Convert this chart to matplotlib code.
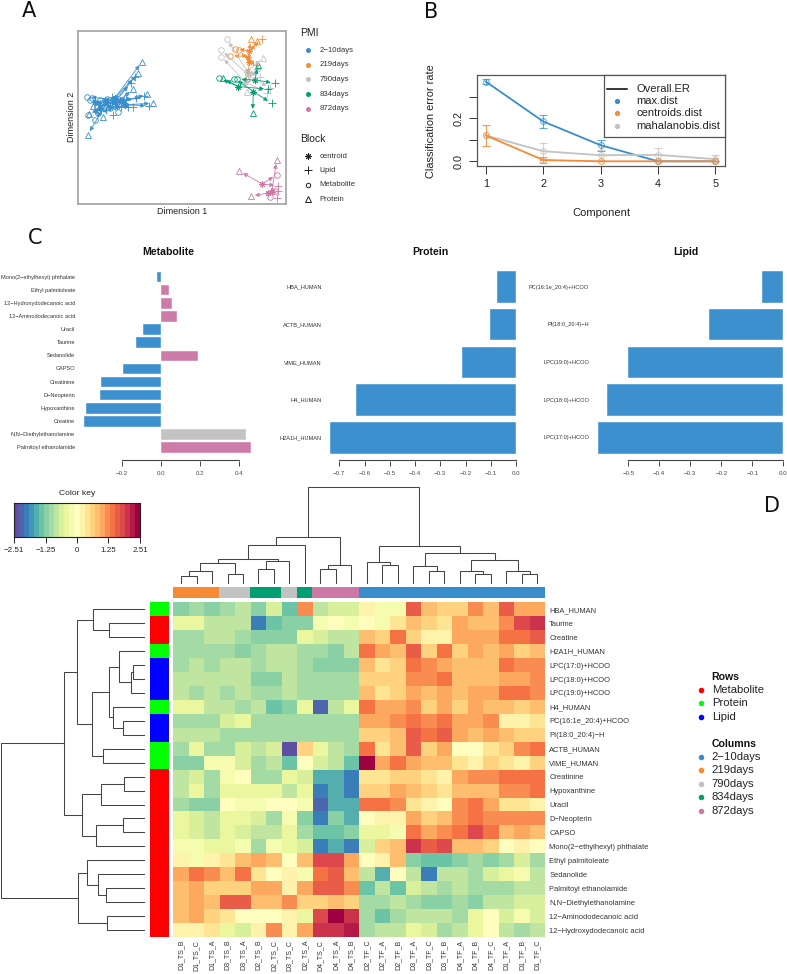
import numpy as np
import matplotlib
matplotlib.use('Agg')
import matplotlib.pyplot as plt
from matplotlib.colors import ListedColormap, BoundaryNorm, to_rgb

plt.rcParams['font.family'] = ['Liberation Sans', 'DejaVu Sans']

W, H = 787, 974
BLUE, ORANGE, GREY, GREEN, PINK = '#388ECC', '#F68B33', '#C2C2C2', '#009E73', '#CC79A7'
pmi_names = ['2\u221210days', '219days', '790days', '834days', '872days']
pmi_cols = [BLUE, ORANGE, GREY, GREEN, PINK]

# ---- A: sample plot, one entry per sample (arbitrary units)
sample_pmi = [0] * 12 + [1] * 3 + [2] * 3 + [3] * 3 + [4] * 3
centroid_x = [340, 345, 360, 370, 375, 320, 330, 315, 350, 300, 285, 345,
              748, 745, 748, 742, 745, 735, 760, 715, 765, 787, 815, 805]
centroid_y = [300, 305, 300, 305, 315, 310, 320, 300, 318, 325, 305, 295,
              152, 170, 185, 215, 225, 245, 275, 260, 240, 553, 578, 580]
lipid_x = [405, 392, 408, 432, 448, 378, 400, 362, 340, 335, 318, 385,
           785, 770, 768, 780, 810, 800, 815, 805, 825, 835, 830, 835]
lipid_y = [230, 250, 295, 288, 318, 300, 320, 320, 345, 292, 330, 322,
           117, 207, 195, 232, 265, 280, 310, 268, 250, 558, 595, 575]
metab_x = [330, 355, 290, 262, 295, 284, 270, 300, 320, 265, 275, 365,
           706, 690, 716, 680, 664, 664, 703, 658, 712, 830, 810, 825]
metab_y = [325, 336, 322, 290, 340, 362, 300, 300, 298, 345, 295, 300,
           148, 167, 150, 116, 150, 170, 236, 235, 238, 525, 592, 575]
protein_x = [426, 415, 400, 442, 460, 263, 268, 280, 375, 310, 295, 300,
             753, 770, 742, 790, 770, 740, 758, 668, 773, 718, 830, 752]
protein_y = [186, 218, 268, 283, 310, 405, 342, 318, 290, 350, 330, 320,
             118, 123, 235, 173, 205, 275, 340, 235, 195, 514, 480, 590]

# ---- B: classification error
components = [1, 2, 3, 4, 5]
max_dist = [0.37, 0.185, 0.075, 0.0, 0.0]
max_err = [0.01, 0.032, 0.025, 0.0, 0.0]
centroids_dist = [0.12, 0.006, 0.0, 0.0, 0.0]
centroids_err = [0.05, 0.016, 0.0, 0.0, 0.0]
mahal_dist = [0.12, 0.047, 0.028, 0.03, 0.01]
mahal_err = [0.05, 0.04, 0.024, 0.033, 0.02]

# ---- C: loadings
metab_names = ['Mono(2\u2212ethylhexyl) phthalate', 'Ethyl palmitoleate', '12\u2212Hydroxydodecanoic acid',
               '12\u2212Aminododecanoic acid', 'Uracil', 'Taurine', 'Sedanolide', 'CAPSO', 'Creatinine',
               'D\u2212Neopterin', 'Hypoxanthine', 'Creatine', 'N,N\u2212Diethylethanolamine',
               'Palmitoyl ethanolamide']
metab_load = [-0.02, 0.043, 0.056, 0.083, -0.089, -0.126, 0.19, -0.193, -0.305, -0.312, -0.383, -0.392, 0.433, 0.459]
metab_group = [0, 4, 4, 4, 0, 0, 4, 0, 0, 0, 0, 0, 2, 4]
prot_names = ['HBA_HUMAN', 'ACTB_HUMAN', 'VIME_HUMAN', 'H4_HUMAN', 'H2A1H_HUMAN']
prot_load = [-0.076, -0.103, -0.213, -0.632, -0.738]
lipid_names = ['PC(16:1e_20:4)+HCOO', 'PI(18:0_20:4)\u2212H', 'LPC(19:0)+HCOO', 'LPC(18:0)+HCOO', 'LPC(17:0)+HCOO']
lipid_load = [-0.07, -0.24, -0.501, -0.57, -0.598]

# ---- D: clustered heatmap
row_names = ['HBA_HUMAN', 'Taurine', 'Creatine', 'H2A1H_HUMAN', 'LPC(17:0)+HCOO', 'LPC(18:0)+HCOO', 'LPC(19:0)+HCOO',
             'H4_HUMAN', 'PC(16:1e_20:4)+HCOO', 'PI(18:0_20:4)\u2212H', 'ACTB_HUMAN', 'VIME_HUMAN', 'Creatinine',
             'Hypoxanthine', 'Uracil', 'D\u2212Neopterin', 'CAPSO', 'Mono(2\u2212ethylhexyl) phthalate',
             'Ethyl palmitoleate', 'Sedanolide', 'Palmitoyl ethanolamide', 'N,N\u2212Diethylethanolamine',
             '12\u2212Aminododecanoic acid', '12\u2212Hydroxydodecanoic acid']
col_names = ['D1_TS_B', 'D1_TS_C', 'D1_TS_A', 'D3_TS_B', 'D3_TS_A', 'D2_TS_B', 'D2_TS_C', 'D3_TS_C', 'D2_TS_A',
             'D4_TS_C', 'D4_TS_A', 'D4_TS_B', 'D2_TF_C', 'D2_TF_A', 'D2_TF_B', 'D3_TF_A', 'D3_TF_C', 'D3_TF_B',
             'D4_TF_A', 'D4_TF_B', 'D4_TF_C', 'D1_TF_A', 'D1_TF_B', 'D1_TF_C']
row_block = [1, 0, 0, 1, 2, 2, 2, 1, 2, 2, 1, 1] + [0] * 12
col_group = [1, 1, 1, 2, 2, 3, 3, 2, 3, 4, 4, 4] + [0] * 12
heat_values = [
    [-1.2, -.95, -1.2, -.95, -.75, -1.2, -.55, -1.45, 1.2, -.75, -.55, -.55, .2, -.3, -.3, 1.6, .8, .6, .6, 1.2, .8, 1.6, 1.0, 1.0],
    [-.5, -.5, -.75, -.75, -.75, -1.95, -1.4, -1.2, -1.2, -.2, 0, -.2, 0, -.3, .4, .8, .6, .4, 1.0, .8, .8, 1.2, 1.8, 2.0],
    [-.95, -.95, -.75, -.75, -.95, -1.2, -1.2, -1.2, -.4, -.55, -.75, -.75, .8, .6, 1.4, .6, .2, .2, 1.0, 1.0, 1.0, 1.4, 1.4, 1.6],
    [-.95, -.95, -.95, -.95, -1.2, -.95, -.75, -.75, -.95, -.95, -1.2, -.75, 1.4, 1.0, .8, 1.6, .6, 1.4, .6, 1.0, .8, 1.0, .6, .8],
    [-.95, -.75, -.95, -.75, -.75, -.95, -.75, -.75, -.95, -1.15, -1.15, -1.15, .8, .4, .6, 1.4, 1.2, 1.0, .8, .8, .8, 1.4, 1.2, 1.2],
    [-.75, -.75, -.75, -.75, -.75, -1.15, -1.15, -.75, -.95, -.95, -.95, -.95, .6, .6, .6, 1.2, 1.2, 1.4, .8, .8, .8, 1.0, 1.0, 1.2],
    [-.75, -.95, -.75, -.95, -.75, -.95, -.95, -.75, -.95, -.95, -.95, -.95, .8, .4, .6, 1.0, .8, 1.0, .8, 1.0, 1.0, 1.4, 1.4, 1.2],
    [-.5, -.5, -.75, -.75, -.95, -.75, -1.45, -1.2, -.4, -2.2, -.75, -.35, 1.4, 1.0, 1.0, 1.2, .6, 1.0, .6, 1.0, .8, .8, .6, .8],
    [-.95, -.95, -.95, -.55, -.35, -.95, -.95, -.95, -.95, -.95, -.95, -.95, 1.0, 1.0, 1.2, 1.4, 1.2, 1.4, 1.0, 1.0, 1.2, .2, .2, .4],
    [-.75, -.75, -.75, -.95, -.95, -.95, -.95, -.95, -.95, -.95, -.95, -.95, .6, .6, .8, 1.6, 1.4, 1.6, 1.0, .8, 1.0, .8, .6, .6],
    [-.95, -.5, -.95, -.95, -.55, -.75, -.55, -2.4, .6, -.35, -.75, -.95, 1.4, .4, .8, 1.6, .6, 1.0, 0, 0, .4, .6, 1.2, 1.4],
    [-1.2, -1.2, -.25, -.25, -.55, -.95, -.75, -1.4, 0, -.55, -.75, -1.4, 2.5, 1.0, 1.4, 1.0, .8, .8, .4, .2, .6, .4, .2, .6],
    [-.75, -.55, -.95, -.25, 0, -.95, -.95, -.4, -.55, -1.7, -1.7, -1.95, .4, .4, .6, .6, .4, .2, 1.0, 1.2, 1.2, 1.4, 1.4, 1.4],
    [-.75, -.5, -.95, -.4, -.4, -.4, -.4, -.75, -.4, -1.95, -1.7, -1.95, .6, .6, 1.0, .8, .6, .4, .8, .8, .8, 1.2, 1.2, 1.4],
    [-.95, -1.2, -1.2, 0, -.2, -.2, -.05, -.05, -.2, -2.2, -1.7, -1.7, 1.4, 1.4, 1.2, .4, .2, 0, 1.2, 1.4, 1.0, .4, .4, .2],
    [-.4, -.55, -.75, -.4, -.4, -.55, -.95, -.2, -1.2, -1.95, -1.15, -1.7, 0, .2, .2, 1.0, .6, .8, 1.2, 1.4, 1.2, 1.2, 1.2, 1.2],
    [-.4, -.55, -.75, -.4, -.55, -.75, -.75, -.35, -.95, -1.45, -1.45, -1.2, -.4, -.4, -.25, 1.4, 1.0, 1.2, 1.4, 1.8, 1.4, .8, 1.0, .8],
    [-.2, -.2, -.4, -.4, -.2, -.95, -.2, -.4, -.55, -1.95, -1.7, -1.95, -.55, .6, .8, 2.0, 1.6, 1.8, .8, .8, .6, 0, .2, 0],
    [.2, -.2, .2, .4, .8, 1.0, .8, 0, .8, 1.8, 1.8, 1.0, 0, .2, .8, -1.2, -1.45, -1.45, -1.2, -.95, -1.2, -.95, -.55, -.95],
    [1.0, 1.4, 1.2, .8, 1.4, .4, 0, .2, -.3, 1.4, 1.6, .8, -.75, -1.7, 0, -.75, -1.95, -.75, -.75, -.95, -.55, -.4, -.2, -.75],
    [.8, 1.0, .6, .6, .6, 1.0, 1.0, .2, 1.0, 1.6, 1.6, 1.2, -1.45, -.75, -1.45, -.55, -.75, -.95, -.75, -.95, -.95, -.95, -.75, -.75],
    [.8, 1.0, .8, 1.6, 1.6, .8, .8, 1.2, .6, .6, .8, .6, -.95, -.95, -.75, -.95, -1.2, -1.2, -.95, -1.2, -.75, -.75, -.55, -.55],
    [.8, 1.0, .6, .4, 0, 0, 0, .2, -.4, 1.8, 2.5, 2.0, -.95, -1.45, -.95, -.75, -.75, -.75, -.95, -.35, -.05, -.55, -.25, -.55],
    [.2, .2, .4, -.4, -.55, .2, 1.2, .2, 1.0, 2.0, 2.0, 2.2, -.95, -.75, -.75, -.4, -.55, -.95, -.75, -.4, 0, -.75, -.95, -.75],
]
key_ticks = [-2.51, -1.25, 0, 1.25, 2.51]

# dendrograms: nested (height, left, right), leaves are row/column indices
col_tree = (96.7,
            (46, (38, (24, (20, (12.7, (7.7, 0, 1), 2), (9.7, 3, 4)), (22.3, (14.3, 5, 6), 7)), 8),
             (18, (14, 9, 10), 11)),
            (37, (21, 12, (18.7, 13, 14)),
             (30, (17.7, 15, (12, 16, 17)),
              (23.7, (12, 18, (9.7, 19, 20)), (12.7, 21, (9.7, 22, 23))))))
row_tree = (143.7,
            (80.7,
             (67.7, (51.3, 0, (35, 1, 2)),
              (52, (35.3, (25.7, 3, (13.7, (11, 4, 5), 6)), (31.7, 7, (21.7, 8, 9))), (41, 10, 11))),
             (62.3, (43.7, (20.3, 12, 13), 14), (48, (21.7, 15, 16), 17))),
            (66.7, (57.7, 18, (46.3, 19, (38.7, 20, 21))), (37.7, 22, 23)))


def px_axes(x0, y0, x1, y1):
    # axes from picture pixels (y measured from the top)
    return fig.add_axes([x0 / W, 1 - y1 / H, (x1 - x0) / W, (y1 - y0) / H])


def px_text(x, y, s, **kw):
    kw.setdefault('va', 'center')
    return fig.text(x / W, 1 - y / H, s, **kw)


def walk(node, segs):
    # returns (position, height) of a subtree and collects the U shapes
    if not isinstance(node, tuple):
        return node + 0.5, 0.0
    h, a, b = node
    pa, ha = walk(a, segs)
    pb, hb = walk(b, segs)
    segs.append(([pa, pa, pb, pb], [ha, h, h, hb]))
    return (pa + pb) / 2, h


fig = plt.figure(figsize=(W / 100, H / 100), dpi=100)

for letter, lx, ly in [('A', 29, 17), ('B', 431, 18), ('C', 35, 244), ('D', 772, 512)]:
    px_text(lx, ly, letter, fontsize=15, ha='center', va='baseline', family='DejaVu Sans', color='#111111')

# ---------- A
ax = px_axes(78, 31, 286, 204)
for i, g in enumerate(sample_pmi):
    c = pmi_cols[g]
    cx, cy = centroid_x[i], centroid_y[i]
    for ex, ey in [(lipid_x[i], lipid_y[i]), (metab_x[i], metab_y[i]), (protein_x[i], protein_y[i])]:
        ax.annotate('', xy=(ex, ey), xytext=(cx, cy),
                    arrowprops=dict(arrowstyle='-|>', color=c, lw=0.7, mutation_scale=6,
                                    shrinkA=0, shrinkB=3, alpha=0.85))
    ax.plot(cx, cy, ls='', marker=(8, 2, 0), ms=4.5, mew=0.7, color=c)
    ax.plot(lipid_x[i], lipid_y[i], ls='', marker='+', ms=6, mew=0.6, color=c)
    ax.plot(metab_x[i], metab_y[i], ls='', marker='o', ms=4, mew=0.6, mfc='none', color=c)
    ax.plot(protein_x[i], protein_y[i], ls='', marker='^', ms=4.5, mew=0.6, mfc='none', color=c)
ax.set_xlim(234, 858)
ax.set_ylim(613, 93)
ax.set_xticks([])
ax.set_yticks([])
for s in ax.spines.values():
    s.set_color('#A8A8A8')
    s.set_linewidth(1.3)
px_text(182, 211, 'Dimension 1', fontsize=6.5, ha='center', color='#222222')
px_text(71, 117, 'Dimension 2', fontsize=6.5, ha='center', rotation=90, color='#222222')

la = px_axes(295, 20, 365, 210)
la.set_xlim(295, 365)
la.set_ylim(210, 20)
la.axis('off')
px_text(300.5, 33.5, 'PMI', fontsize=7.5, color='#222222')
for i, n in enumerate(pmi_names):
    ly = 50 + i * 14.7
    la.plot(307.5, ly, 'o', ms=3.6, color=pmi_cols[i], mew=0)
    px_text(319.5, ly, n, fontsize=5.6, color='#333333')
px_text(300.5, 139.5, 'Block', fontsize=7.5, color='#222222')
block_names = ['centroid', 'Lipid', 'Metabolite', 'Protein']
block_marks = [(8, 2, 0), '+', 'o', '^']
for i, n in enumerate(block_names):
    ly = 156 + i * 14.4
    la.plot(307.5, ly, ls='', marker=block_marks[i], ms=[4.5, 6, 3.2, 4][i], mew=0.7, mfc='none', color='#222222')
    px_text(319.5, ly, n, fontsize=5.6, color='#333333')

# ---------- B
ax = px_axes(476.7, 75.3, 725, 166)
for vals, errs, c in [(max_dist, max_err, BLUE), (mahal_dist, mahal_err, GREY), (centroids_dist, centroids_err, ORANGE)]:
    ax.errorbar(components, vals, yerr=errs, fmt='none', ecolor=c, elinewidth=0.8, capsize=2.8, capthick=0.8, alpha=0.75)
    ax.plot(components, vals, color=c, lw=1.3)
    ax.plot(components, vals, ls='', marker='o', ms=4.2, mfc='none', mew=0.7, color=c, alpha=0.8)
ax.set_xlim(0.84, 5.17)
ax.set_ylim(-0.0218, 0.3995)
ax.set_xticks(components)
ax.set_yticks([0, 0.1, 0.2, 0.3])
ax.set_yticklabels(['0.0', '', '0.2', ''], rotation=90, va='center')
ax.tick_params(labelsize=7.8, length=5.5, width=0.7, color='#333333', labelcolor='#222222', pad=4)
for s in ax.spines.values():
    s.set_color('#555555')
    s.set_linewidth(0.9)
px_text(601, 213.5, 'Component', fontsize=8, ha='center', color='#222222')
px_text(430.5, 121, 'Classification error rate', fontsize=7.9, ha='center', rotation=90, color='#222222')

lg = px_axes(604.3, 75.3, 725, 137.3)
lg.set_xlim(604.3, 725)
lg.set_ylim(137.3, 75.3)
lg.set_xticks([])
lg.set_yticks([])
for s in lg.spines.values():
    s.set_color('#555555')
    s.set_linewidth(0.9)
lg.plot([607, 627], [88.7, 88.7], color='black', lw=1.1)
px_text(636.7, 88.7, 'Overall.ER', fontsize=8, color='#222222')
for ly, n, c in [(101, 'max.dist', BLUE), (113.3, 'centroids.dist', ORANGE), (125.7, 'mahalanobis.dist', GREY)]:
    lg.plot(617, ly, 'o', ms=3.8, color=c, mew=0)
    px_text(636.7, ly, n, fontsize=8, color='#222222')

# ---------- C
panels = [
    (metab_names, metab_load, [pmi_cols[g] for g in metab_group], (121.7, 239.3), (-0.2, 0.4), 75, 168, 'Metabolite',
     [-0.2, 0.0, 0.2, 0.4], 0.8, 277, 13.13),
    (prot_names, prot_load, [BLUE] * 5, (339.3, 516), (-0.7, 0.0), 322, 430, 'Protein',
     [-0.7, -0.6, -0.5, -0.4, -0.3, -0.2, -0.1, 0.0], 0.84, 287, 37.67),
    (lipid_names, lipid_load, [BLUE] * 5, (628.3, 783.3), (-0.5, 0.0), 589, 686, 'Lipid',
     [-0.5, -0.4, -0.3, -0.2, -0.1, 0.0], 0.84, 287, 37.67),
]
for names, load, cols, xpx, xval, lab_x, tit_x, title, ticks, bar_h, first, step in panels:
    per_px = (xval[1] - xval[0]) / (xpx[1] - xpx[0])
    left = lab_x + 4
    right = xpx[1] + 3 if max(load) < 0 else xpx[1] + 20
    ax = px_axes(left, 268, right, 460)
    ax.set_xlim(xval[0] - (xpx[0] - left) * per_px, xval[1] + (right - xpx[1]) * per_px)
    ax.set_ylim((460 - first) / step, (268 - first) / step)
    yy = np.arange(len(names))
    ax.barh(yy, load, height=bar_h, color=cols, edgecolor='white', linewidth=0.3, alpha=0.98)
    ax.set_xticks([])
    ax.set_yticks([])
    for s in ax.spines.values():
        s.set_visible(False)
    for y, n in zip(yy, names):
        ax.annotate(n, xy=(lab_x, y), xycoords=('figure pixels', 'data'), annotation_clip=False, ha='right', va='center',
                    fontsize=4.1, color='#333333')
    px_text(tit_x, 252, title, fontsize=7.6, fontweight='bold', ha='center', color='#111111')
    t_ax = px_axes(xpx[0], 460, xpx[1], 461)
    t_ax.set_xlim(xval)
    t_ax.set_ylim(0, 1)
    t_ax.set_xticks(ticks)
    t_ax.set_xticklabels([('%.1f' % t).replace('-', '\u2212') for t in ticks])
    t_ax.set_yticks([])
    t_ax.tick_params(labelsize=4.4, length=3.6, width=0.7, color='#444444', labelcolor='#444444', pad=3.5)
    t_ax.patch.set_visible(False)
    for k in ['left', 'right', 'bottom']:
        t_ax.spines[k].set_visible(False)
    t_ax.spines['top'].set_color('#444444')
    t_ax.spines['top'].set_linewidth(0.8)

# ---------- D
key_cmap = ListedColormap(plt.get_cmap('Spectral_r')(np.linspace(0, 1, 25)))
bounds = np.linspace(-2.51, 2.51, 26)
norm = BoundaryNorm(bounds, 25)

ax = px_axes(173.3, 602.3, 545, 937)
ax.pcolormesh(np.arange(25), np.arange(25), np.array(heat_values), cmap=key_cmap, norm=norm, edgecolors='none', rasterized=True)
ax.set_ylim(24, 0)
ax.set_xlim(0, 24)
ax.set_xticks(np.arange(24) + 0.5)
ax.set_xticklabels(col_names, rotation=90, fontsize=5.0, color='#333333')
ax.set_yticks(np.arange(24) + 0.5)
ax.set_yticklabels(row_names, fontsize=5.4, color='#333333')
ax.yaxis.tick_right()
ax.tick_params(length=0, pad=3)
ax.tick_params(axis='x', pad=2)
for s in ax.spines.values():
    s.set_visible(False)

# side bars
ax = px_axes(150, 602.3, 168.5, 937)
ax.imshow(np.array([[to_rgb(['#FF0000', '#00FF00', '#0000FF'][b])] for b in row_block]),
          aspect='auto', extent=(0, 1, 24, 0), interpolation='nearest')
ax.axis('off')
ax = px_axes(173.3, 586.7, 545, 597.7)
ax.imshow(np.array([[to_rgb(pmi_cols[g]) for g in col_group]]),
          aspect='auto', extent=(0, 24, 0, 1), interpolation='nearest')
ax.axis('off')

# dendrograms
ax = px_axes(173.3, 486.7, 545, 583.3)
segs = []
walk(col_tree, segs)
for xs, ys in segs:
    ax.plot(xs, ys, color='#444444', lw=0.75, solid_joinstyle='miter', clip_on=False)
ax.set_xlim(0, 24)
ax.set_ylim(0, 96.7)
ax.axis('off')

ax = px_axes(0.7, 602.3, 144.3, 937)
segs = []
walk(row_tree, segs)
for ys, xs in segs:
    ax.plot(xs, ys, color='#444444', lw=0.75, solid_joinstyle='miter', clip_on=False)
ax.set_xlim(143.7, 0)
ax.set_ylim(24, 0)
ax.axis('off')

# colour key
ax = px_axes(14, 503, 140, 537)
ax.pcolormesh(bounds, [0, 1], np.linspace(-2.41, 2.41, 25).reshape(1, -1), cmap=key_cmap, norm=norm)
ax.set_xlim(-2.51, 2.51)
ax.set_xticks(key_ticks)
ax.set_xticklabels([str(t).replace('-', '\u2212') for t in key_ticks], fontsize=5.8, color='#222222')
ax.set_yticks([])
ax.tick_params(length=4, width=0.6, pad=3.5)
for s in ax.spines.values():
    s.set_linewidth(0.8)
    s.set_color('#222222')
px_text(77, 493, 'Color key', fontsize=6.1, ha='center', color='#222222')

# heatmap legends
la = px_axes(692, 670, 787, 820)
la.set_xlim(692, 787)
la.set_ylim(820, 670)
la.axis('off')
px_text(711.7, 677, 'Rows', fontsize=7.6, fontweight='bold', color='#111111')
for i, (n, c) in enumerate(zip(['Metabolite', 'Protein', 'Lipid'], ['#FF0000', '#00FF00', '#0000FF'])):
    ly = 690 + i * 13.4
    la.plot(700.7, ly, 'o', ms=4, color=c, mew=0)
    px_text(711.7, ly, n, fontsize=8.1, color='#222222')
px_text(711.7, 744, 'Columns', fontsize=7.6, fontweight='bold', color='#111111')
for i, n in enumerate(pmi_names):
    ly = 757 + i * 13.4
    la.plot(700.7, ly, 'o', ms=4, color=pmi_cols[i], mew=0)
    px_text(711.7, ly, n, fontsize=8.1, color='#222222')

fig.savefig('out.png', dpi=100)
